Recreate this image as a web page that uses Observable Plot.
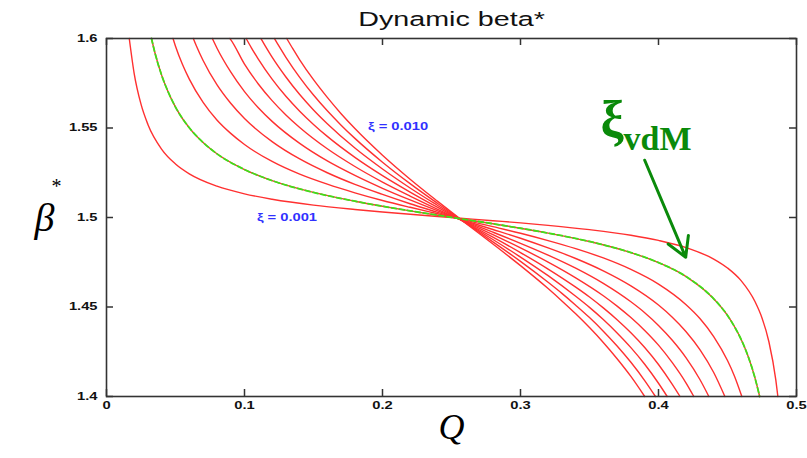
<!DOCTYPE html>
<html>
<head>
<meta charset="utf-8">
<script src="https://cdn.jsdelivr.net/npm/d3@7"></script>
<script src="https://cdn.jsdelivr.net/npm/@observablehq/plot@0.6"></script>
<style>
  html, body { margin: 0; padding: 0; background: #fff; }
  #chart svg { display: block; }
</style>
</head>
<body>
<div id="chart"></div>
<script>
// Dynamic beta* versus tune Q for beam-beam parameters xi = 0.001 ... 0.010
const xiLevels = [0.001, 0.002, 0.003, 0.004, 0.005, 0.006, 0.007, 0.008, 0.009, 0.010];
const vdmXi = 0.002;

// [Q, beta*] points along each curve
const c001 = [[0.0165,1.6],[0.02,1.5807],[0.025,1.5633],[0.03,1.5520],[0.04,1.5381],[0.05,1.5299],[0.06,1.5244],[0.08,1.5175],[0.10,1.5132],[0.12,1.5102],[0.15,1.5069],[0.18,1.5045],[0.20,1.5031],[0.22,1.5018],[0.25,1.5000],[0.28,1.4982],[0.30,1.4970],[0.32,1.4956],[0.35,1.4932],[0.38,1.4901],[0.40,1.4872],[0.42,1.4832],[0.44,1.4768],[0.45,1.4718],[0.46,1.4646],[0.47,1.4529],[0.475,1.4439],[0.48,1.4306],[0.485,1.4093],[0.4865,1.4]];
const c002 = [[0.0326,1.6],[0.035,1.5923],[0.04,1.5794],[0.045,1.5696],[0.05,1.5617],[0.06,1.5501],[0.07,1.5419],[0.08,1.5356],[0.10,1.5268],[0.12,1.5206],[0.15,1.5140],[0.18,1.5091],[0.20,1.5063],[0.22,1.5037],[0.25,1.5001],[0.28,1.4965],[0.30,1.4940],[0.32,1.4913],[0.35,1.4866],[0.38,1.4804],[0.40,1.4748],[0.42,1.4670],[0.44,1.4546],[0.45,1.4453],[0.455,1.4391],[0.46,1.4317],[0.465,1.4223],[0.47,1.4101],[0.4733,1.4]];
const c003 = [[0.0482,1.6],[0.05,1.5957],[0.055,1.5856],[0.06,1.5773],[0.07,1.5643],[0.08,1.5545],[0.09,1.5470],[0.10,1.5408],[0.12,1.5313],[0.14,1.5242],[0.16,1.5186],[0.18,1.5138],[0.20,1.5095],[0.22,1.5057],[0.24,1.5021],[0.26,1.4985],[0.28,1.4949],[0.30,1.4912],[0.32,1.4871],[0.34,1.4826],[0.36,1.4774],[0.38,1.4710],[0.40,1.4628],[0.42,1.4513],[0.43,1.4436],[0.44,1.4335],[0.45,1.4201],[0.455,1.4115],[0.4604,1.4]];
const c004 = [[0.0629,1.6],[0.065,1.5961],[0.07,1.5877],[0.08,1.5742],[0.09,1.5638],[0.10,1.5553],[0.12,1.5424],[0.14,1.5327],[0.16,1.5250],[0.18,1.5185],[0.20,1.5129],[0.22,1.5077],[0.24,1.5029],[0.26,1.4981],[0.28,1.4933],[0.30,1.4884],[0.32,1.4830],[0.34,1.4771],[0.36,1.4702],[0.38,1.4618],[0.40,1.4511],[0.41,1.4443],[0.42,1.4362],[0.43,1.4262],[0.44,1.4134],[0.4481,1.4]];
const c005 = [[0.0767,1.6],[0.08,1.5947],[0.09,1.5813],[0.10,1.5703],[0.11,1.5613],[0.12,1.5537],[0.14,1.5414],[0.16,1.5316],[0.18,1.5235],[0.20,1.5163],[0.22,1.5098],[0.24,1.5037],[0.26,1.4978],[0.28,1.4918],[0.30,1.4856],[0.32,1.4790],[0.34,1.4717],[0.36,1.4632],[0.38,1.4529],[0.39,1.4468],[0.40,1.4397],[0.41,1.4314],[0.42,1.4216],[0.43,1.4095],[0.4365,1.4]];
const c006 = [[0.0894,1.6],[0.09,1.5994],[0.10,1.5857],[0.11,1.5746],[0.12,1.5653],[0.13,1.5573],[0.14,1.5503],[0.16,1.5384],[0.18,1.5285],[0.20,1.5198],[0.22,1.5120],[0.24,1.5046],[0.26,1.4975],[0.28,1.4904],[0.30,1.4830],[0.32,1.4751],[0.34,1.4663],[0.36,1.4563],[0.37,1.4505],[0.38,1.4441],[0.39,1.4369],[0.40,1.4287],[0.41,1.4189],[0.42,1.4075],[0.4256,1.4]];
const c007 = [[0.1012,1.6],[0.105,1.5948],[0.11,1.5885],[0.12,1.5773],[0.13,1.5677],[0.14,1.5594],[0.15,1.5520],[0.16,1.5453],[0.18,1.5336],[0.20,1.5234],[0.22,1.5142],[0.24,1.5056],[0.26,1.4973],[0.28,1.4890],[0.30,1.4804],[0.32,1.4712],[0.34,1.4611],[0.35,1.4556],[0.36,1.4495],[0.37,1.4429],[0.38,1.4356],[0.39,1.4274],[0.40,1.4179],[0.41,1.4068],[0.4156,1.4]];
const c008 = [[0.1119,1.6],[0.115,1.5959],[0.12,1.5896],[0.13,1.5785],[0.14,1.5687],[0.15,1.5601],[0.16,1.5524],[0.18,1.5388],[0.20,1.5271],[0.22,1.5165],[0.24,1.5067],[0.26,1.4972],[0.28,1.4877],[0.30,1.4779],[0.32,1.4675],[0.34,1.4560],[0.35,1.4498],[0.36,1.4430],[0.37,1.4355],[0.38,1.4273],[0.39,1.4180],[0.40,1.4074],[0.4063,1.4]];
const c009 = [[0.1217,1.6],[0.125,1.5957],[0.13,1.5895],[0.14,1.5783],[0.15,1.5684],[0.16,1.5596],[0.17,1.5516],[0.18,1.5442],[0.20,1.5309],[0.22,1.5189],[0.24,1.5078],[0.26,1.4971],[0.28,1.4864],[0.30,1.4755],[0.32,1.4638],[0.33,1.4576],[0.34,1.4510],[0.35,1.4441],[0.36,1.4365],[0.37,1.4282],[0.38,1.4191],[0.39,1.4089],[0.3978,1.4]];
const c010 = [[0.1306,1.6],[0.135,1.5943],[0.14,1.5881],[0.15,1.5770],[0.16,1.5671],[0.17,1.5580],[0.18,1.5497],[0.20,1.5348],[0.22,1.5214],[0.24,1.5090],[0.26,1.4970],[0.28,1.4852],[0.30,1.4731],[0.32,1.4603],[0.33,1.4534],[0.34,1.4462],[0.35,1.4385],[0.36,1.4302],[0.37,1.4211],[0.38,1.4112],[0.390,1.4]];

const curvePoints = [c001, c002, c003, c004, c005, c006, c007, c008, c009, c010];

// Axis ticks and their labels
const xTicks = [0, 0.1, 0.2, 0.3, 0.4, 0.5];
const xTickLabels = ["0", "0.1", "0.2", "0.3", "0.4", "0.5"];
const yTicks = [1.4, 1.45, 1.5, 1.55, 1.6];
const yTickLabels = ["1.4", "1.45", "1.5", "1.55", "1.6"];

// In-plot annotations
const xiNotes = [
  {q: 0.1895, b: 1.5508, text: "ξ = 0.010"},
  {q: 0.109, b: 1.5, text: "ξ = 0.001"}
];
const vdmArrow = [{q1: 0.390, b1: 1.532, q2: 0.4197, b2: 1.4778}];
const vdmLabel = [{q: 0.358, b: 1.5452, text: "ξ"}];
const vdmSub = [{q: 0.3747, b: 1.5379, text: "vdM"}];

const rows = curvePoints.flatMap((pts, i) =>
  pts.map(([q, b]) => ({xi: xiLevels[i], q, b}))
);

const SANS = "'Liberation Sans', Arial, Helvetica, sans-serif";
const SERIF = "'Liberation Serif', 'Times New Roman', serif";
const FRAME = "#333";
const TICK = 7;
const plotW = 807 - 106 - 11;
const plotH = 458 - 38 - 62;

const chart = Plot.plot({
  width: 807,
  height: 458,
  marginTop: 38,
  marginRight: 11,
  marginBottom: 62,
  marginLeft: 106,
  style: {background: "#fff", overflow: "visible"},
  x: {domain: [0, 0.5], axis: null},
  y: {domain: [1.4, 1.6], axis: null},
  marks: [
    Plot.line(rows, {x: "q", y: "b", z: "xi", stroke: "#ff3030", strokeWidth: 1.4, curve: "monotone-x"}),
    Plot.line(rows.filter(d => d.xi === vdmXi), {x: "q", y: "b", stroke: "#3ee01a", strokeWidth: 1.8, strokeDasharray: "5,3", curve: "monotone-x"}),
    Plot.frame({stroke: FRAME, strokeWidth: 1.6}),
    // inward ticks on all four sides
    Plot.tickX(xTicks, {x: d => d, insetTop: plotH - TICK, stroke: FRAME, strokeWidth: 1.5}),
    Plot.tickX(xTicks, {x: d => d, insetBottom: plotH - TICK, stroke: FRAME, strokeWidth: 1.5}),
    Plot.tickY(yTicks, {y: d => d, insetRight: plotW - TICK, stroke: FRAME, strokeWidth: 1.5}),
    Plot.tickY(yTicks, {y: d => d, insetLeft: plotW - TICK, stroke: FRAME, strokeWidth: 1.5}),
    // tick labels
    Plot.text(xTicks, {x: d => d, frameAnchor: "bottom", dy: 12, text: (d, i) => xTickLabels[i],
      fontFamily: SANS, fontWeight: "bold", fontSize: 10.5, fill: "#111"}),
    Plot.text(yTicks, {y: d => d, frameAnchor: "left", dx: -9, textAnchor: "end", text: (d, i) => yTickLabels[i],
      fontFamily: SANS, fontWeight: "bold", fontSize: 10.5, fill: "#111"}),
    // title
    Plot.text(["Dynamic beta*"], {frameAnchor: "top", dy: -13, lineAnchor: "bottom",
      fontFamily: SANS, fontSize: 20.5, fill: "#111"}),
    // axis labels
    Plot.text(["β"], {frameAnchor: "left", y: [1.5], dx: -72, dy: 1, fontFamily: SERIF, fontStyle: "italic", fontSize: 40, fill: "#000"}),
    Plot.text(["*"], {frameAnchor: "left", y: [1.5], dx: -55, dy: -31, textAnchor: "start", fontFamily: SERIF, fontSize: 20, fill: "#000"}),
    Plot.text(["Q"], {frameAnchor: "bottom", dy: 42, fontFamily: SERIF, fontStyle: "italic", fontSize: 36, fill: "#000"}),
    // xi annotations
    Plot.text(xiNotes, {x: "q", y: "b", text: "text", textAnchor: "start",
      fontFamily: SANS, fontWeight: "bold", fontSize: 10.5, fill: "#3030ff"}),
    // xi_vdM label and arrow
    Plot.arrow(vdmArrow, {x1: "q1", y1: "b1", x2: "q2", y2: "b2", stroke: "#0a8a0a", strokeWidth: 3, headLength: 11, headAngle: 60}),
    Plot.text(vdmLabel, {x: "q", y: "b", text: "text", textAnchor: "start", lineAnchor: "bottom",
      fontFamily: SERIF, fontWeight: "bold", fontSize: 52, fill: "#0a8a0a"}),
    Plot.text(vdmSub, {x: "q", y: "b", text: "text", textAnchor: "start", lineAnchor: "bottom",
      fontFamily: SERIF, fontWeight: "bold", fontSize: 34, fill: "#0a8a0a"})
  ]
});

document.getElementById("chart").append(chart);

// widen the sans-serif lettering horizontally
const STRETCH = 1.4;
chart.querySelectorAll("text").forEach(t => {
  const fam = getComputedStyle(t).fontFamily || "";
  if (fam.includes("Liberation Sans")) {
    const w = t.getComputedTextLength();
    if (w > 0) {
      t.setAttribute("textLength", (w * STRETCH).toFixed(1));
      t.setAttribute("lengthAdjust", "spacingAndGlyphs");
    }
  }
});
</script>
</body>
</html>
